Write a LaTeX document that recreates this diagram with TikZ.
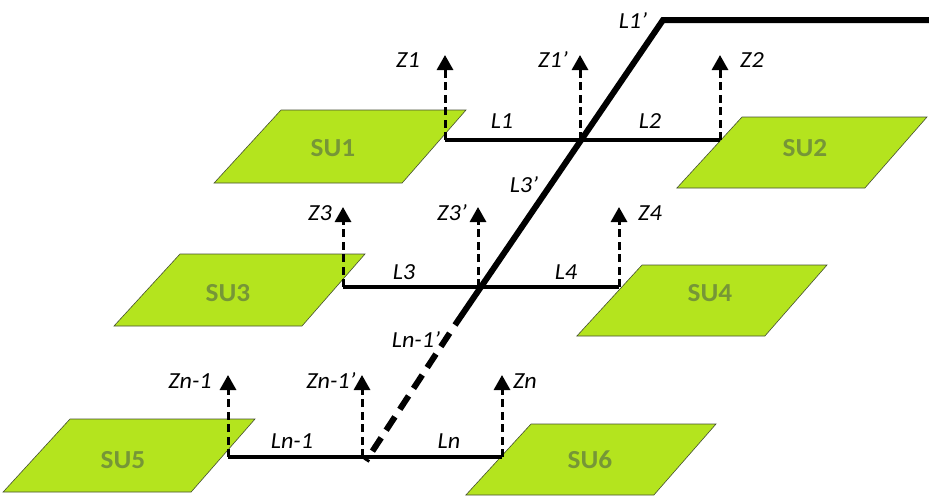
\documentclass[tikz,border=0pt]{standalone}
\usepackage{fontspec}
\setmainfont{Carlito}
\newfontfamily\labfont[FakeStretch=1.05]{Carlito}
\usetikzlibrary{arrows.meta,calc}
\definecolor{sufill}{RGB}{180,228,30}
\definecolor{sutext}{RGB}{118,150,55}
\definecolor{suedge}{RGB}{70,80,50}
\tikzset{
  unitbox/.style={fill=sufill,draw=suedge,line width=0.6pt},
  sulabel/.style={text=sutext,font=\labfont\bfseries\fontsize{26}{28}\selectfont,inner sep=0pt},
  lab/.style={font=\labfont\itshape\fontsize{23}{24}\selectfont,inner sep=0pt},
  bus/.style={line width=3.2pt},
  trunk/.style={line width=6pt},
  trunkdash/.style={line width=6pt,dash pattern=on 16pt off 9pt},
  zarrow/.style={line width=3pt,dash pattern=on 8pt off 4.5pt,-{Triangle[length=15pt,width=16pt]}}
}
\begin{document}
\begin{tikzpicture}[x=1pt,y=-1pt]
\useasboundingbox (0,0) rectangle (929,496);
% parallelograms: top-left x, top y, height, name, text, label x, label y
\newcommand{\sunit}[7]{%
  \path[unitbox] (#1,#2) -- ++(185,0) -- ++({-63*#3/72},#3) -- ++(-188,0) -- cycle;
  \node[sulabel] (#4) at (#6,#7) {#5};}
\sunit{281}{110}{73}{su1}{SU1}{333}{148}
\sunit{742}{117}{71}{su2}{SU2}{805}{148}
\sunit{180}{254}{72}{su3}{SU3}{228}{293}
\sunit{642}{265}{71}{su4}{SU4}{710}{293}
\sunit{70}{419}{73}{su5}{SU5}{123}{460}
\sunit{531}{424}{71}{su6}{SU6}{590}{460}
% junction coordinates
\coordinate (a1) at (445,140); \coordinate (m1) at (580,140); \coordinate (b1) at (720,140);
\coordinate (a2) at (343,287); \coordinate (m2) at (478,287); \coordinate (b2) at (619,287);
\coordinate (a3) at (228,457); \coordinate (m3) at (362,457); \coordinate (b3) at (502,457);
\coordinate (za1) at (445,55); \coordinate (zm1) at (580,55); \coordinate (zb1) at (720,55);
\coordinate (za2) at (343,207); \coordinate (zm2) at (478,207); \coordinate (zb2) at (619,207);
\coordinate (za3) at (228,375); \coordinate (zm3) at (362,375); \coordinate (zb3) at (502,375);
% trunk line
\coordinate (tr) at (929,20); \coordinate (tc) at (663,20);
\coordinate (ts) at (455,325); \coordinate (te) at (366,461);
\draw[trunk,line join=miter] (tr) -- (tc) -- (ts);
\draw[trunkdash] ($(ts)!0.06!(te)$) -- (te);
% buses
\draw[bus] (a1) -- (m1) -- (b1);
\draw[bus] (a2) -- (m2) -- (b2);
\draw[bus] (a3) -- (m3) -- (b3);
% vertical dashed arrows
\foreach \p in {a1,m1,b1,a2,m2,b2,a3,m3,b3}{\draw[zarrow] (\p) -- (z\p);}
% labels
\node[lab] (l1p) at (633,21) {L1’};
\node[lab] (z1) at (408,60) {Z1};
\node[lab] (z1p) at (553,60) {Z1’};
\node[lab] (z2) at (752,60) {Z2};
\node[lab] (l1) at (502,121) {L1};
\node[lab] (l2) at (650,121) {L2};
\node[lab] (l3p) at (524,185) {L3’};
\node[lab] (z3) at (320,213) {Z3};
\node[lab] (z3p) at (452,213) {Z3’};
\node[lab] (z4) at (650,213) {Z4};
\node[lab] (l3) at (404,272) {L3};
\node[lab] (l4) at (566,272) {L4};
\node[lab] (lnp) at (416,340) {Ln-1’};
\node[lab] (zn1) at (190,381) {Zn-1};
\node[lab] (zn1p) at (331,381) {Zn-1’};
\node[lab] (zn) at (525,381) {Zn};
\node[lab] (ln1) at (292,441) {Ln-1};
\node[lab] (ln) at (449,441) {Ln};
\end{tikzpicture}
\end{document}
